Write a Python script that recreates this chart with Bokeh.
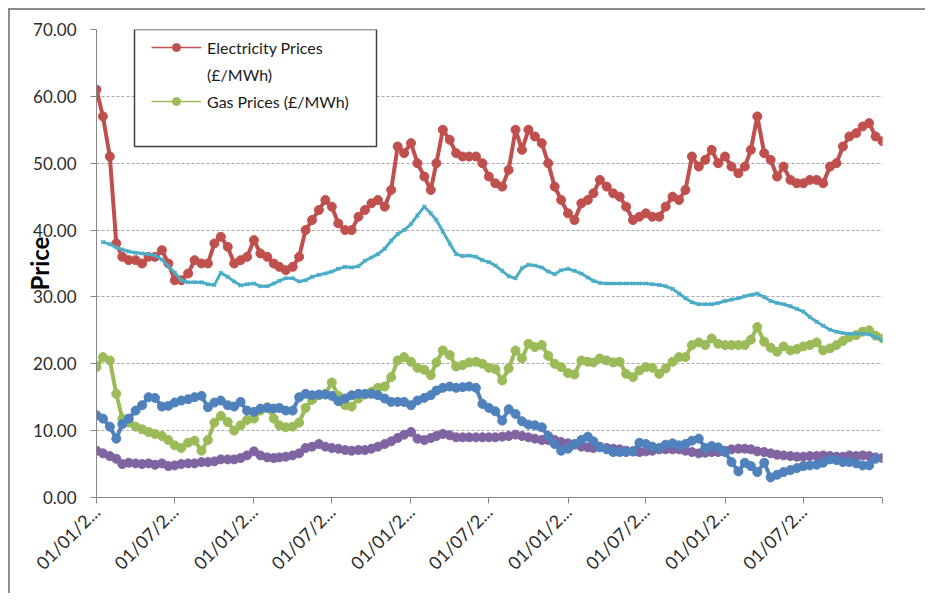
import math
from datetime import datetime
from bokeh.plotting import figure
from bokeh.models import (ColumnDataSource, FixedTicker, NumeralTickFormatter, Legend,
                          LegendItem, BoxAnnotation, Range1d)
from bokeh.embed import file_html
from bokeh.resources import INLINE

nan = float("nan")

# ---- data (semi-monthly readings, 01/01/2008 .. 01/01/2013) ----
years = [2008, 2009, 2010, 2011, 2012]
dates = [datetime(y, m, d) for y in years for m in range(1, 13) for d in (1, 16)] + [datetime(2013, 1, 1)]

electricity = [61, 57, 51, 38, 36, 35.5, 35.5, 35, 36, 36,
               37, 35, 32.5, 32.5, 33.5, 35.5, 35, 35, 38, 39,
               37.5, 35, 35.5, 36, 38.5, 36.5, 36, 35, 34.5, 34,
               34.5, 36, 40, 41.5, 43, 44.5, 43.5, 41, 40, 40,
               42, 43, 44, 44.5, 43.5, 46, 52.5, 51.5, 53, 50,
               48, 46, 50, 55, 53.5, 51.5, 51, 51, 51, 50,
               48, 47, 46.5, 49, 55, 52, 55, 54, 53, 50,
               46.5, 44.5, 42.5, 41.5, 44, 44.5, 45.5, 47.5, 46.5, 45.5,
               45, 43.5, 41.5, 42, 42.5, 42, 42, 43.5, 45, 44.5,
               46, 51, 49.5, 50.5, 52, 50, 51, 49.5, 48.5, 49.5,
               52, 57, 51.5, 50.5, 48, 49.5, 47.5, 47, 47, 47.5,
               47.5, 47, 49.5, 50, 52.5, 54, 54.5, 55.5, 56, 54,
               53.3]

gas = [19.5, 21, 20.5, 15.5, 11.8, 11.2, 10.6, 10.2, 9.8, 9.5,
       9.2, 8.6, 7.8, 7.4, 8.2, 8.5, 7.0, 8.6, 11.2, 12.2,
       11.3, 10, 10.8, 11.6, 11.8, 13, 13.5, 11.8, 10.8, 10.5,
       10.6, 11.2, 13.4, 14.6, 15.3, 15.5, 17.2, 15.2, 13.8, 13.6,
       14.8, 15.4, 15.8, 16.4, 16.6, 18, 20.5, 21, 20.3, 19.4,
       19.1, 18.3, 20.2, 22, 21.3, 19.6, 19.8, 20.2, 20.3, 20,
       19.4, 19.2, 17.5, 19.3, 22, 20.8, 23, 22.5, 22.8, 21.2,
       20, 19.5, 18.6, 18.4, 20.5, 20.3, 20.2, 20.8, 20.5, 20.2,
       20.3, 18.5, 18, 19, 19.5, 19.4, 18.5, 19.3, 20.3, 21,
       21, 22.8, 23.2, 22.8, 23.8, 23, 22.8, 22.8, 22.8, 22.8,
       23.6, 25.5, 23.3, 22.4, 21.8, 22.6, 22, 22.2, 22.6, 22.8,
       23.2, 22, 22.3, 22.8, 23.4, 24, 24.3, 24.8, 25, 24.2,
       23.8]

blue_series = [12.3, 11.8, 10.6, 8.8, 11, 11.8, 13, 13.8, 15, 14.9,
               13.6, 13.7, 14.2, 14.5, 14.7, 15, 15.2, 13.5, 14.2, 14.5,
               13.8, 13.6, 14.3, 13, 12.8, 13.3, 13.4, 13.3, 13.4, 13,
               13, 15, 15.5, 15.3, 15.4, 15.4, 15.2, 14.4, 14.8, 15.3,
               15.5, 15.5, 15.5, 15.3, 14.8, 14.3, 14.3, 14.3, 13.8, 14.5,
               14.9, 15.3, 16, 16.4, 16.6, 16.4, 16.5, 16.6, 16.4, 14,
               13.4, 12.9, 11.5, 13.2, 12.5, 11.4, 10.9, 10.8, 10.5, 9.2,
               8, 7, 7.3, 8, 8.6, 9.1, 8.4, 7.5, 7.2, 6.8,
               6.8, 6.8, 6.9, 8.2, 8, 7.6, 7.4, 7.9, 8.1, 7.8,
               8, 8.5, 8.8, 7.4, 7.7, 7.5, 6.8, 5.3, 3.9, 5.2,
               4.7, 3.8, 5.2, 3, 3.4, 3.8, 4.1, 4.4, 4.7, 4.8,
               4.9, 5.2, 5.7, 5.6, 5.3, 5.3, 5.1, 4.8, 4.8, 5.8,
               nan]

purple_series = [7.0, 6.6, 6.2, 5.8, 5.0, 5.2, 5.1, 5.0, 5.1, 4.9,
                 5.1, 4.7, 4.8, 5.0, 5.1, 5.1, 5.3, 5.3, 5.4, 5.7,
                 5.7, 5.7, 5.9, 6.3, 6.9, 6.3, 6.0, 5.9, 6.0, 6.1,
                 6.3, 6.6, 7.4, 7.6, 8.0, 7.6, 7.4, 7.3, 7.1, 7.0,
                 7.1, 7.1, 7.3, 7.6, 8.0, 8.4, 8.9, 9.4, 9.8, 8.8,
                 8.6, 8.9, 9.2, 9.5, 9.3, 9.0, 9.0, 9.0, 9.0, 9.0,
                 9.0, 9.0, 9.1, 9.2, 9.4, 9.2, 9.0, 8.8, 8.6, 8.6,
                 8.6, 8.3, 8.1, 7.9, 7.6, 7.5, 7.4, 7.6, 7.4, 7.3,
                 7.2, 7.0, 6.9, 6.8, 6.9, 7.0, 7.2, 7.2, 7.2, 7.2,
                 7.0, 6.8, 6.6, 6.7, 6.8, 6.8, 7.0, 7.2, 7.3, 7.3,
                 7.2, 6.9, 6.8, 6.6, 6.4, 6.3, 6.2, 6.1, 6.1, 6.2,
                 6.2, 6.3, 6.2, 6.1, 6.1, 6.3, 6.2, 6.3, 6.2, 6.0,
                 5.9]

cyan_series = [nan, 38.2, 37.9, 37.4, 37.1, 36.8, 36.6, 36.5, 36.4, 36.2,
               35.6, 34.6, 33.6, 32.5, 32.2, 32.2, 32.2, 31.9, 31.8, 33.6,
               33.0, 32.3, 31.7, 31.9, 32.0, 31.6, 31.6, 32.0, 32.4, 32.8,
               32.8, 32.3, 32.5, 33.0, 33.3, 33.5, 33.8, 34.2, 34.5, 34.4,
               34.6, 35.4, 35.9, 36.4, 37.2, 38.4, 39.4, 40.0, 40.9, 42.2,
               43.5, 42.5, 41.5, 39.8, 38.0, 36.4, 36.1, 36.2, 36.0, 35.5,
               35.2, 34.7, 33.9, 33.1, 32.8, 34.3, 34.8, 34.7, 34.4, 33.8,
               33.4, 34.0, 34.2, 33.9, 33.5, 32.9, 32.4, 32.1, 32.0, 32.0,
               32.0, 32.0, 32.0, 32.0, 32.0, 31.9, 31.8, 31.6, 31.2, 30.5,
               29.8, 29.2, 28.9, 28.9, 28.9, 29.1, 29.4, 29.6, 29.8, 30.1,
               30.3, 30.5, 30.0, 29.4, 29.1, 28.9, 28.6, 28.2, 27.8, 27.0,
               26.3, 25.7, 25.1, 24.8, 24.6, 24.5, 24.5, 24.5, 24.4, 24.0,
               23.5]

y_ticks = [0, 10, 20, 30, 40, 50, 60, 70]
x_tick_dates = [datetime(y, m, 1) for y in years for m in (1, 7)] + [datetime(2013, 1, 1)]
x_tick_labels = ["01/01/2...", "01/07/2..."] * 5 + [""]

legend_lines = ["Electricity Prices", "(£/MWh)", "Gas Prices (£/MWh)"]

RED, GREEN, BLUE, PURPLE, CYAN = "#C0504D", "#9BBB59", "#4F81BD", "#8064A2", "#4BACC6"
FONT = "Lato"

epoch = datetime(1970, 1, 1)
tick_ms = [(d - epoch).total_seconds() * 1000.0 for d in x_tick_dates]

src = ColumnDataSource(dict(date=dates, elec=electricity, gas=gas, blue=blue_series,
                            purple=purple_series, cyan=cyan_series))

W, H = 917, 585
p = figure(width=W, height=H, x_axis_type="datetime", output_backend="svg",
           toolbar_location=None,
           x_range=Range1d(datetime(2008, 1, 1), datetime(2013, 1, 1)),
           y_range=Range1d(0, 70),
           min_border_left=86, min_border_right=45, min_border_top=19, min_border_bottom=98)
p.styles = {"margin-left": "8px", "margin-top": "8px",
            "border-left": "2px solid #8c8c8c", "border-top": "2px solid #8c8c8c"}
p.outline_line_color = None
p.background_fill_color = "white"
p.border_fill_color = "white"

# axes
p.yaxis.ticker = FixedTicker(ticks=y_ticks)
p.yaxis.formatter = NumeralTickFormatter(format="0.00")
p.xaxis.ticker = FixedTicker(ticks=tick_ms)
p.xaxis.major_label_overrides = {t: lab for t, lab in zip(tick_ms, x_tick_labels)}
p.xaxis.major_label_orientation = math.pi / 4
for ax in (p.xaxis[0], p.yaxis[0]):
    ax.axis_line_color = "#868686"
    ax.major_tick_line_color = "#868686"
    ax.major_tick_out = 6
    ax.major_tick_in = 0
    ax.minor_tick_line_color = None
    ax.major_label_text_font = FONT
    ax.major_label_text_font_size = "17px"
    ax.major_label_text_color = "#2b2b2b"
p.xaxis.major_label_text_font_size = "18px"
p.yaxis.major_label_standoff = 14
p.xaxis.major_label_standoff = 5

p.yaxis.axis_label = "Price"
p.yaxis.axis_label_text_font = FONT
p.yaxis.axis_label_text_font_style = "bold"
p.yaxis.axis_label_text_font_size = "24px"
p.yaxis.axis_label_text_color = "black"
p.yaxis.axis_label_standoff = -24

p.xgrid.grid_line_color = None
p.ygrid.ticker = FixedTicker(ticks=y_ticks)
p.ygrid.grid_line_color = "#a6a6a6"
p.ygrid.grid_line_dash = "3 2"

# series
p.line("date", "elec", source=src, color=RED, line_width=4)
p.scatter("date", "elec", source=src, color=RED, size=9)
p.line("date", "gas", source=src, color=GREEN, line_width=4)
p.scatter("date", "gas", source=src, color=GREEN, size=9)
p.line("date", "purple", source=src, color=PURPLE, line_width=4)
p.scatter("date", "purple", source=src, color=PURPLE, size=9)
p.line("date", "blue", source=src, color=BLUE, line_width=4)
p.scatter("date", "blue", source=src, color=BLUE, size=9)
p.line("date", "cyan", source=src, color=CYAN, line_width=3)
p.scatter("date", "cyan", source=src, color=CYAN, size=5, marker="x", line_width=1.5)

# legend glyph samples (nothing drawn in the plot)
lr1 = p.line([nan], [nan], color=RED, line_width=1.5)
lr2 = p.scatter([nan], [nan], color=RED, size=6)
lg1 = p.line([nan], [nan], color=GREEN, line_width=1.5)
lg2 = p.scatter([nan], [nan], color=GREEN, size=6)

box = BoxAnnotation(left=38, right=280, bottom=351, top=468,
                    left_units="screen", right_units="screen",
                    top_units="screen", bottom_units="screen",
                    fill_color="white", fill_alpha=1.0,
                    line_color="#404040", line_width=1.5, line_alpha=1.0)
p.add_layout(box)

legend = Legend(items=[LegendItem(label=legend_lines[0], renderers=[lr1, lr2]),
                       LegendItem(label=legend_lines[1], renderers=[]),
                       LegendItem(label=legend_lines[2], renderers=[lg1, lg2])],
                location=(55, 386), padding=0, spacing=7, margin=0,
                glyph_width=50, glyph_height=20, label_height=20, label_standoff=6,
                border_line_alpha=0, background_fill_alpha=0,
                label_text_font=FONT, label_text_font_size="16px",
                label_text_color="#1a1a1a")
p.add_layout(legend)

open("out.html", "w").write(file_html(p, INLINE))
